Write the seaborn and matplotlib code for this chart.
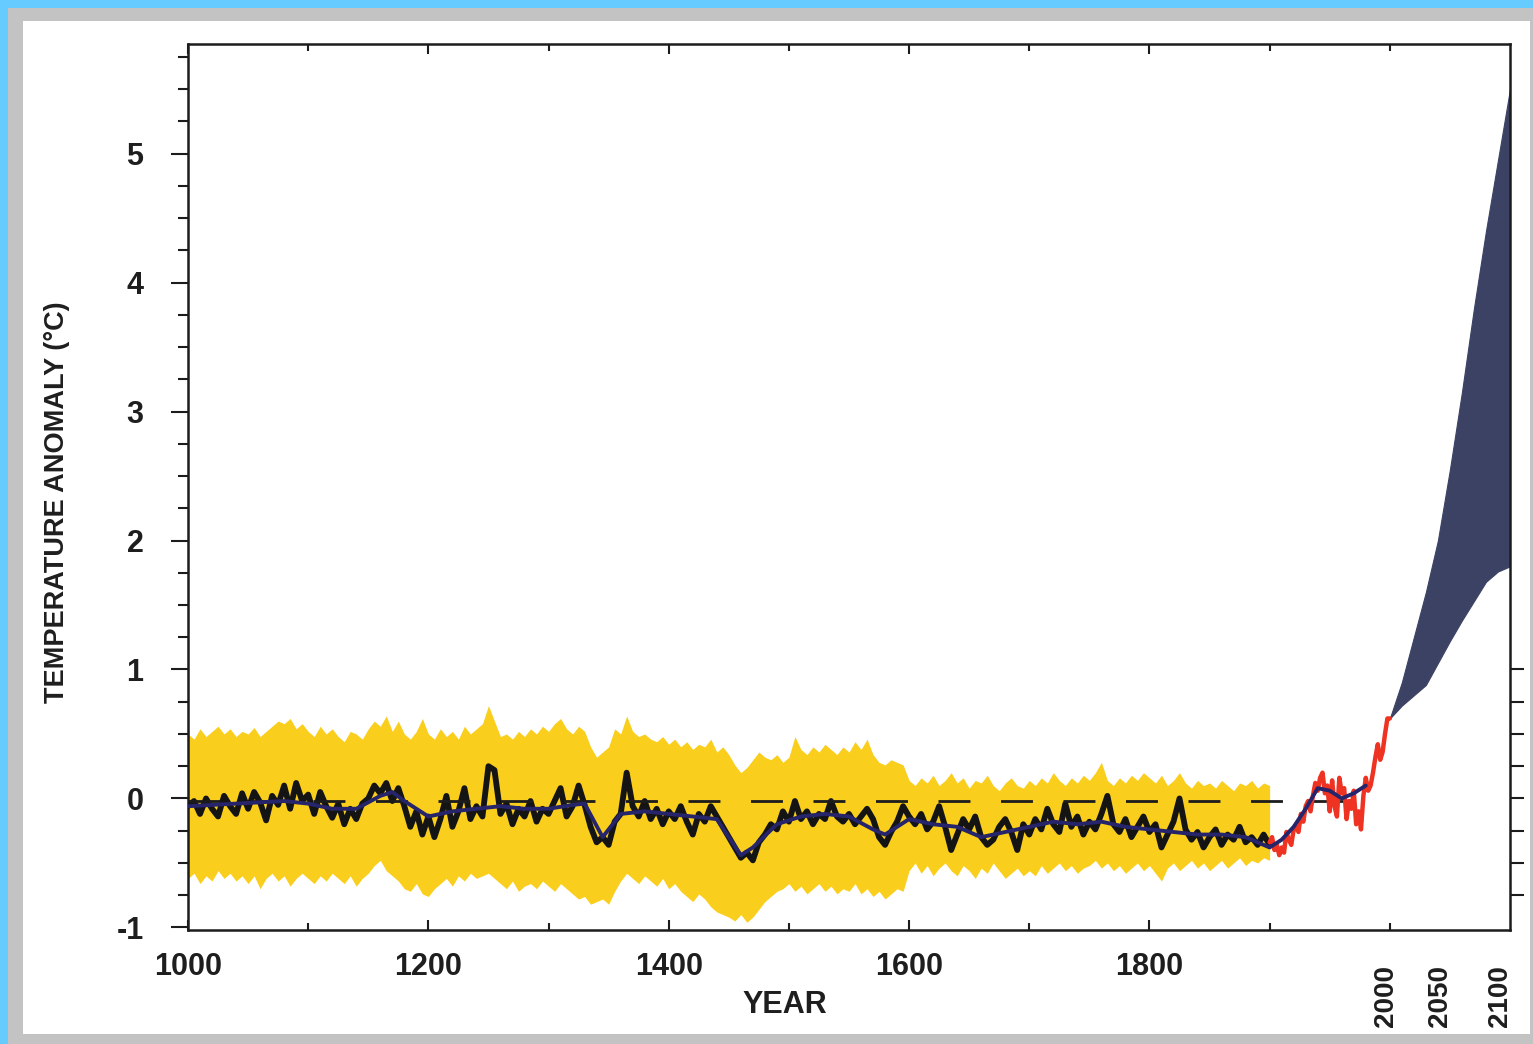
import matplotlib
matplotlib.use("Agg")
import matplotlib.pyplot as plt
import matplotlib.patches as mpatches
import matplotlib.transforms as mtransforms
from matplotlib.ticker import FixedLocator
import seaborn as sns

# ---------------- data ----------------
recon_years = list(range(1000, 1901, 5))
recon_vals = [
    -0.06, -0.02, -0.12, 0.00, -0.08, -0.14, 0.02, -0.06, -0.12, 0.04,
    -0.08, 0.05, -0.03, -0.17, 0.02, -0.05, 0.10, -0.08, 0.12, -0.02,
    0.03, -0.12, 0.05, -0.06, -0.15, -0.04, -0.20, -0.08, -0.16, -0.04,
    0.00, 0.10, 0.04, 0.12, -0.02, 0.08, -0.06, -0.22, -0.10, -0.28,
    -0.14, -0.30, -0.16, 0.02, -0.22, -0.10, 0.08, -0.16, -0.06, -0.14,
    0.25, 0.22, -0.12, -0.04, -0.20, -0.08, -0.14, -0.02, -0.18, -0.08,
    -0.12, -0.02, 0.08, -0.14, -0.06, 0.10, -0.05, -0.22, -0.34, -0.30,
    -0.36, -0.18, -0.12, 0.20, -0.06, -0.14, -0.02, -0.16, -0.08, -0.20,
    -0.10, -0.16, -0.06, -0.18, -0.28, -0.12, -0.18, -0.06, -0.14, -0.22,
    -0.30, -0.38, -0.46, -0.42, -0.48, -0.34, -0.28, -0.20, -0.24, -0.10,
    -0.18, -0.02, -0.16, -0.10, -0.20, -0.12, -0.16, -0.02, -0.14, -0.18,
    -0.12, -0.20, -0.14, -0.08, -0.16, -0.30, -0.36, -0.26, -0.18, -0.06,
    -0.14, -0.20, -0.12, -0.24, -0.18, -0.06, -0.22, -0.40, -0.28, -0.16,
    -0.24, -0.14, -0.30, -0.36, -0.32, -0.22, -0.16, -0.26, -0.40, -0.20,
    -0.28, -0.16, -0.24, -0.08, -0.20, -0.26, -0.04, -0.22, -0.14, -0.28,
    -0.18, -0.24, -0.12, 0.02, -0.20, -0.26, -0.16, -0.30, -0.22, -0.14,
    -0.26, -0.20, -0.38, -0.28, -0.18, 0.00, -0.24, -0.32, -0.26, -0.38,
    -0.30, -0.24, -0.36, -0.28, -0.32, -0.22, -0.34, -0.30, -0.36, -0.28,
    -0.36,
]
band_upper = [
    0.50, 0.46, 0.54, 0.48, 0.52, 0.56, 0.50, 0.54, 0.48, 0.52,
    0.50, 0.55, 0.48, 0.52, 0.56, 0.60, 0.58, 0.62, 0.54, 0.58,
    0.52, 0.48, 0.56, 0.50, 0.54, 0.48, 0.44, 0.52, 0.50, 0.46,
    0.54, 0.60, 0.56, 0.64, 0.52, 0.60, 0.50, 0.46, 0.52, 0.62,
    0.50, 0.46, 0.54, 0.48, 0.52, 0.46, 0.56, 0.50, 0.54, 0.58,
    0.72, 0.60, 0.48, 0.50, 0.46, 0.52, 0.48, 0.54, 0.50, 0.56,
    0.52, 0.58, 0.62, 0.54, 0.50, 0.56, 0.52, 0.40, 0.32, 0.36,
    0.40, 0.54, 0.50, 0.64, 0.52, 0.48, 0.50, 0.46, 0.44, 0.48,
    0.42, 0.46, 0.40, 0.44, 0.38, 0.42, 0.40, 0.46, 0.36, 0.40,
    0.34, 0.26, 0.20, 0.24, 0.30, 0.36, 0.32, 0.30, 0.34, 0.28,
    0.32, 0.48, 0.38, 0.34, 0.40, 0.36, 0.42, 0.38, 0.34, 0.40,
    0.36, 0.44, 0.38, 0.46, 0.34, 0.28, 0.26, 0.30, 0.28, 0.26,
    0.14, 0.10, 0.16, 0.12, 0.18, 0.10, 0.14, 0.20, 0.12, 0.16,
    0.08, 0.14, 0.12, 0.18, 0.10, 0.06, 0.12, 0.16, 0.10, 0.08,
    0.14, 0.10, 0.16, 0.12, 0.20, 0.14, 0.10, 0.16, 0.12, 0.18,
    0.14, 0.20, 0.28, 0.14, 0.10, 0.16, 0.12, 0.18, 0.14, 0.20,
    0.16, 0.12, 0.18, 0.10, 0.14, 0.20, 0.12, 0.08, 0.14, 0.10,
    0.12, 0.08, 0.14, 0.10, 0.06, 0.12, 0.10, 0.14, 0.08, 0.12,
    0.10,
]
band_lower = [
    -0.62, -0.58, -0.66, -0.60, -0.64, -0.56, -0.62, -0.58, -0.64, -0.60,
    -0.66, -0.60, -0.70, -0.62, -0.58, -0.64, -0.60, -0.68, -0.62, -0.58,
    -0.62, -0.66, -0.60, -0.64, -0.58, -0.62, -0.66, -0.60, -0.68, -0.62,
    -0.58, -0.52, -0.48, -0.56, -0.60, -0.64, -0.70, -0.72, -0.66, -0.74,
    -0.76, -0.70, -0.66, -0.62, -0.68, -0.60, -0.64, -0.58, -0.62, -0.60,
    -0.58, -0.62, -0.66, -0.70, -0.64, -0.72, -0.68, -0.66, -0.70, -0.64,
    -0.68, -0.72, -0.66, -0.70, -0.74, -0.78, -0.76, -0.82, -0.80, -0.78,
    -0.82, -0.72, -0.64, -0.58, -0.62, -0.66, -0.60, -0.64, -0.68, -0.62,
    -0.70, -0.66, -0.72, -0.76, -0.80, -0.74, -0.78, -0.84, -0.88, -0.90,
    -0.92, -0.95, -0.90, -0.96, -0.92, -0.86, -0.80, -0.76, -0.72, -0.70,
    -0.66, -0.72, -0.68, -0.74, -0.70, -0.66, -0.72, -0.68, -0.74, -0.70,
    -0.72, -0.66, -0.74, -0.70, -0.76, -0.72, -0.78, -0.74, -0.70, -0.72,
    -0.56, -0.50, -0.58, -0.52, -0.60, -0.54, -0.50, -0.56, -0.60, -0.52,
    -0.56, -0.62, -0.54, -0.58, -0.50, -0.56, -0.62, -0.58, -0.54, -0.60,
    -0.56, -0.60, -0.52, -0.58, -0.54, -0.50, -0.56, -0.52, -0.58, -0.54,
    -0.52, -0.48, -0.54, -0.50, -0.56, -0.52, -0.58, -0.54, -0.50, -0.56,
    -0.52, -0.58, -0.64, -0.54, -0.50, -0.56, -0.52, -0.48, -0.54, -0.50,
    -0.56, -0.52, -0.48, -0.54, -0.50, -0.46, -0.52, -0.48, -0.50, -0.46,
    -0.48,
]
smooth_years = [1000, 1020, 1040, 1060, 1080, 1100, 1120, 1140, 1160, 1170,
                1180, 1200, 1220, 1240, 1260, 1280, 1300, 1320, 1330, 1345,
                1360, 1380, 1400, 1420, 1440, 1450, 1460, 1470, 1490, 1510,
                1530, 1550, 1570, 1580, 1600, 1620, 1640, 1660, 1680, 1700,
                1720, 1740, 1760, 1780, 1800, 1820, 1840, 1860, 1880, 1900,
                1910, 1920, 1930, 1940, 1950, 1960, 1970, 1980]
smooth_vals = [-0.06, -0.05, -0.04, -0.03, -0.02, -0.04, -0.08, -0.08, 0.02, 0.05,
               -0.02, -0.14, -0.10, -0.08, -0.06, -0.08, -0.08, -0.05, -0.04, -0.30,
               -0.12, -0.10, -0.12, -0.14, -0.16, -0.30, -0.44, -0.38, -0.20, -0.14,
               -0.12, -0.14, -0.24, -0.28, -0.16, -0.20, -0.22, -0.30, -0.26, -0.22,
               -0.18, -0.20, -0.18, -0.22, -0.24, -0.26, -0.28, -0.28, -0.30, -0.38,
               -0.32, -0.22, -0.08, 0.08, 0.06, 0.00, 0.04, 0.10]
instr_years = list(range(1900, 2001, 2))
instr_vals = [-0.34, -0.30, -0.40, -0.36, -0.44, -0.38, -0.42, -0.26, -0.32, -0.36,
              -0.24, -0.22, -0.26, -0.12, -0.18, -0.06, -0.02, -0.10, 0.02, 0.12,
              0.06, 0.16, 0.20, 0.04, 0.10, -0.10, 0.14, -0.06, -0.14, 0.16,
              0.04, 0.08, -0.16, -0.02, -0.08, 0.06, -0.20, -0.10, -0.24, 0.02,
              0.16, 0.06, 0.10, 0.20, 0.32, 0.42, 0.30, 0.36, 0.50, 0.62,
              0.62]
proj_years = [2000, 2010, 2020, 2030, 2040, 2050, 2060, 2070, 2080, 2090, 2100]
proj_low = [0.62, 0.72, 0.80, 0.88, 1.05, 1.22, 1.38, 1.53, 1.68, 1.76, 1.80]
proj_high = [0.62, 0.90, 1.25, 1.60, 2.00, 2.55, 3.15, 3.80, 4.40, 4.95, 5.50]
ref_years = [1000, 1985]
ref_level = [-0.02, -0.02]

x_major = [1000, 1200, 1400, 1600, 1800]
x_major_labels = ["1000", "1200", "1400", "1600", "1800"]
x_minor = [1100, 1300, 1500, 1700, 1900, 2000]
x_proj_labels = [2000, 2050, 2100]
y_major = [-1, 0, 1, 2, 3, 4, 5]
y_major_labels = ["-1", "0", "1", "2", "3", "4", "5"]
y_minor = [-0.75, -0.5, -0.25, 0.25, 0.5, 0.75, 1.25, 1.5, 1.75, 2.25, 2.5, 2.75,
           3.25, 3.5, 3.75, 4.25, 4.5, 4.75, 5.25, 5.5, 5.75]
y_right = [-0.75, -0.5, -0.25, 0.0, 0.25, 0.5, 0.75, 1.0]

# ---------------- styling ----------------
sns.set_theme(style="ticks")
plt.rcParams["font.family"] = ["Liberation Sans", "DejaVu Sans"]
plt.rcParams["axes.unicode_minus"] = False
plt.rcParams["lines.scale_dashes"] = False

W, H = 1533, 1044
fig = plt.figure(figsize=(W / 100, H / 100), dpi=100)
fig.patch.set_facecolor("#66CCFF")
fig.add_artist(mpatches.Rectangle((8 / W, 0), 1 - 8 / W, 1 - 8 / H,
                                  transform=fig.transFigure, facecolor="#C3C3C3",
                                  edgecolor="none", zorder=-10))
fig.add_artist(mpatches.Rectangle((23 / W, 10 / H), (1530 - 23) / W, (1034 - 21) / H,
                                  transform=fig.transFigure, facecolor="white",
                                  edgecolor="none", zorder=-9))

ax = fig.add_axes([188 / W, 1 - 930 / H, (1510 - 188) / W, (930 - 44) / H])
ax.set_facecolor("none")

ink = "#1c1c1c"
txt = "#1e1e1e"

ax.fill_between(recon_years, band_lower, band_upper, color="#F9CE1C", lw=0, zorder=1)
ax.fill_between(proj_years, proj_low, proj_high, facecolor="#3B4264",
                edgecolor="#3B4264", lw=0.8, zorder=2)

sns.lineplot(x=recon_years, y=recon_vals, ax=ax, color="#141414", linewidth=4.2,
             estimator=None, sort=False, zorder=4)
ax.plot(ref_years, ref_level, color=ink, lw=2.0, dashes=(23, 22), zorder=5)
sns.lineplot(x=instr_years, y=instr_vals, ax=ax, color="#EE3322", linewidth=3.2,
             estimator=None, sort=False, zorder=6)
sns.lineplot(x=smooth_years, y=smooth_vals, ax=ax, color="#26246A", linewidth=2.8,
             estimator=None, sort=False, zorder=7)

ax.set_xlim(1000, 2100)
ax.set_ylim(-1.02, 5.85)

for s in ax.spines.values():
    s.set_visible(True)
    s.set_linewidth(1.8)
    s.set_color(ink)

ax.xaxis.set_major_locator(FixedLocator(x_major))
ax.xaxis.set_minor_locator(FixedLocator(x_minor))
ax.set_xticklabels(x_major_labels, fontweight="bold")
ax.yaxis.set_major_locator(FixedLocator(y_major))
ax.yaxis.set_minor_locator(FixedLocator(y_minor))
ax.set_yticklabels(y_major_labels, fontweight="bold")

ax.tick_params(axis="x", which="both", direction="in", top=True, bottom=True,
               color=ink, width=1.5, labelsize=22, pad=16, labelcolor=txt)
ax.tick_params(axis="x", which="major", length=7)
ax.tick_params(axis="x", which="minor", length=5)
ax.tick_params(axis="y", which="both", direction="out", left=True, right=False,
               color=ink, width=1.5, labelsize=22, pad=20, labelcolor=txt)
ax.tick_params(axis="y", which="major", length=12)
ax.tick_params(axis="y", which="minor", length=7)

# right-hand ticks (projection scale)
ax2 = ax.twinx()
ax2.set_ylim(ax.get_ylim())
ax2.yaxis.set_major_locator(FixedLocator(y_right))
ax2.tick_params(axis="y", direction="out", length=10, width=1.5, color=ink,
                labelright=False, right=True)
for s in ax2.spines.values():
    s.set_visible(False)

# rotated projection-year labels
shifts = {2000: -4, 2050: -10, 2100: -10}
for yr in x_proj_labels:
    off = mtransforms.ScaledTranslation(shifts[yr] / 100, -35 / 100, fig.dpi_scale_trans)
    ax.text(yr, 0, str(yr), rotation=90, ha="center", va="top", fontsize=20,
            fontweight="bold", color=txt,
            transform=ax.get_xaxis_transform() + off)

ax.set_xlabel("YEAR", fontsize=22, fontweight="bold", color=txt)
ax.xaxis.set_label_coords((785 - 188) / (1510 - 188), -(1005 - 930) / (930 - 44))
ax.xaxis.label.set_va("center")
ax.set_ylabel("TEMPERATURE ANOMALY (°C)", fontsize=19.5, fontweight="bold", color=txt)
ax.yaxis.set_label_coords((57 - 188) / (1510 - 188), (930 - 502) / (930 - 44))
ax.yaxis.label.set_va("center")

fig.savefig("out.png", dpi=100)
